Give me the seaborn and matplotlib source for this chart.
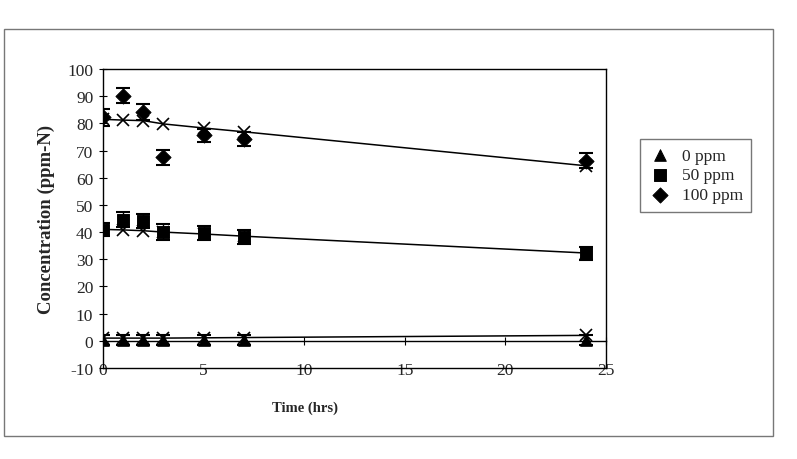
import numpy as np
import pandas as pd
import matplotlib
matplotlib.use("Agg")
import matplotlib.pyplot as plt
import seaborn as sns
from matplotlib.patches import Rectangle

# === Données ===
time_hrs = [0, 1, 2, 3, 5, 7, 24]

conc_0 = [0.3, 0.3, 0.3, 0.3, 0.3, 0.3, 0.3]
err_0 = [1.8, 1.8, 1.8, 1.8, 1.8, 1.8, 1.8]
fit_0 = [1.0, 1.0, 1.0, 1.0, 1.1, 1.2, 2.0]

conc_50 = [40.9, 44.5, 44.2, 40.0, 39.7, 38.3, 32.2]
err_50 = [2.5, 2.8, 2.6, 2.8, 2.5, 2.6, 2.3]
fit_50 = [41.0, 40.8, 40.5, 40.0, 39.3, 38.5, 32.3]

conc_100 = [82.2, 90.2, 84.1, 67.5, 75.7, 74.3, 66.3]
err_100 = [3.0, 2.8, 3.0, 2.8, 2.4, 2.6, 2.8]
fit_100 = [81.5, 81.2, 81.0, 79.8, 78.3, 76.9, 64.4]

labels = ["0 ppm", "50 ppm", "100 ppm"]
markers = ["^", "s", "D"]

df = pd.DataFrame({
    "time": time_hrs * 3,
    "conc": conc_0 + conc_50 + conc_100,
    "err": err_0 + err_50 + err_100,
    "fit": fit_0 + fit_50 + fit_100,
    "dose": [lab for lab in labels for _ in time_hrs],
})

sns.set_style("white")
plt.rcParams["font.family"] = ["Liberation Serif", "DejaVu Serif"]
plt.rcParams["axes.unicode_minus"] = False

fig = plt.figure(figsize=(7.97, 4.6), dpi=100)
ax = fig.add_axes([103 / 797, 1 - 369 / 460, 503 / 797, 299 / 460])

# cadre extérieur
fig.patches.append(Rectangle((4 / 797, 1 - 437 / 460), 769 / 797, 407 / 460,
                             transform=fig.transFigure, fill=False,
                             edgecolor="#777777", linewidth=1.0))

for dose, mk in zip(labels, markers):
    sub = df[df["dose"] == dose]
    # courbe du modèle (x)
    sns.lineplot(data=sub, x="time", y="fit", ax=ax, color="black",
                 linewidth=1.1, marker="x", markersize=9, markeredgewidth=1.2,
                 markeredgecolor="black", legend=False)
    ax.errorbar(sub["time"], sub["conc"], yerr=sub["err"], fmt="none",
                ecolor="black", elinewidth=1.0, capsize=5, capthick=1.5)
    ms = 60 if mk == "D" else 70
    sns.scatterplot(data=sub, x="time", y="conc", ax=ax, marker=mk, s=ms,
                    color="black", edgecolor="black", label=dose, zorder=5)

ax.set_xlim(0, 25)
ax.set_ylim(-10, 100)
ax.set_yticks(np.arange(-10, 101, 10))
ax.set_xticks(np.arange(0, 26, 5))

# axe des x qui croise à 0 (style Excel)
ax.spines["bottom"].set_position(("data", 0))
ax.tick_params(axis="x", direction="inout", length=6, labelbottom=False,
               bottom=True, color="black")
ax.tick_params(axis="y", direction="inout", length=6, left=True, color="black",
               labelsize=12.5, pad=4)
for s in ["left", "bottom", "top", "right"]:
    ax.spines[s].set_visible(True)
    ax.spines[s].set_color("black")
    ax.spines[s].set_linewidth(1.0)

sec = ax.secondary_xaxis("bottom")
sec.set_xticks(np.arange(0, 26, 5))
sec.tick_params(axis="x", length=0, labelsize=12.5, pad=-4)
sec.spines["bottom"].set_color("black")
sec.spines["bottom"].set_linewidth(1.0)

ax.set_xlabel("")
ax.set_ylabel("Concentration (ppm-N)", fontsize=13.5, fontweight="bold", labelpad=9)
fig.text(305 / 797, 1 - 408 / 460, "Time (hrs)", fontsize=10.5, fontweight="bold",
         ha="center", va="center")

handles, _ = ax.get_legend_handles_labels()
leg = ax.legend(handles, labels, loc="upper left", bbox_to_anchor=(640 / 797, 1 - 140 / 460),
                bbox_transform=fig.transFigure, frameon=True, fancybox=False,
                fontsize=12.5, handletextpad=0.6, labelspacing=0.2, borderpad=0.5,
                handlelength=1.3, borderaxespad=0)
leg.get_frame().set_edgecolor("#555555")
leg.get_frame().set_linewidth(1.0)

fig.savefig("out.png", dpi=100)
